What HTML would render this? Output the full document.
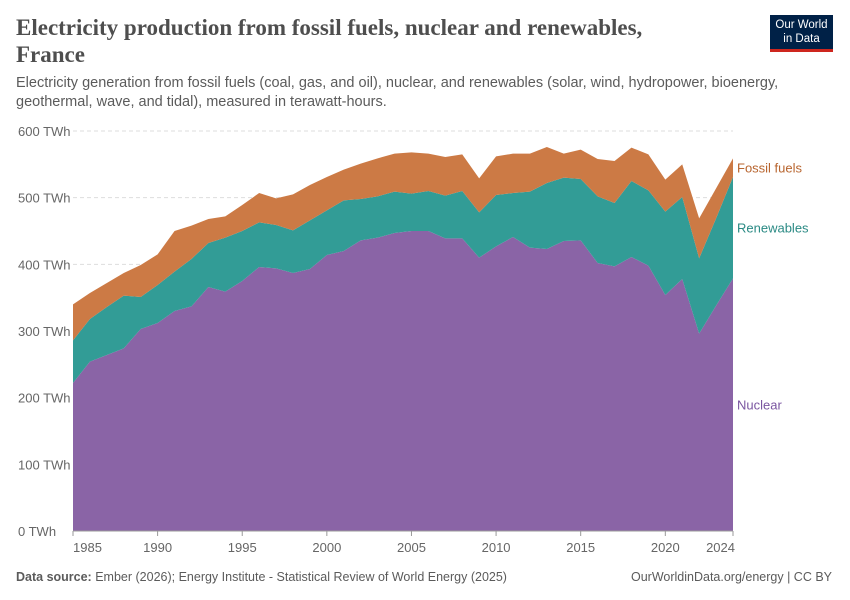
<!DOCTYPE html>
<html><head><meta charset="utf-8">
<style>
body{margin:0;background:#fff;font-family:"Liberation Sans",sans-serif;}
#wrap{position:relative;width:850px;height:600px;overflow:hidden;}
.title{position:absolute;left:16px;top:14px;font-family:"Liberation Serif",serif;font-size:23px;font-weight:bold;color:#4e4e4e;line-height:27px;width:700px;}
.sub{position:absolute;left:16px;top:74px;font-size:14.5px;color:#5b5b5b;line-height:19px;width:790px;}
.logo{position:absolute;left:770px;top:15px;width:63px;height:37px;background:#002147;color:#fff;font-size:11.5px;text-align:center;line-height:14px;padding-top:3px;box-sizing:border-box;border-bottom:3px solid #ce261e;}
.foot{position:absolute;top:570px;font-size:12.5px;color:#5b5b5b;}
</style></head><body>
<div id="wrap">
<div class="title">Electricity production from fossil fuels, nuclear and renewables,<br>France</div>
<div class="sub">Electricity generation from fossil fuels (coal, gas, and oil), nuclear, and renewables (solar, wind, hydropower, bioenergy, geothermal, wave, and tidal), measured in terawatt-hours.</div>
<div class="logo">Our World<br>in Data</div>
<svg id="chart" width="850" height="600" style="position:absolute;left:0;top:0"></svg>
<div class="foot" style="left:16px"><b>Data source:</b> Ember (2026); Energy Institute - Statistical Review of World Energy (2025)</div>
<div class="foot" style="right:18px">OurWorldinData.org/energy | CC BY</div>
</div>
<script>
const years=[1985,1986,1987,1988,1989,1990,1991,1992,1993,1994,1995,1996,1997,1998,1999,2000,2001,2002,2003,2004,2005,2006,2007,2008,2009,2010,2011,2012,2013,2014,2015,2016,2017,2018,2019,2020,2021,2022,2023,2024];
const nuclear=[222,254,264,274,303,312,330,337,366,359,375,396,394,387,393,414,420,436,440,447,450,450,439,439,410,427,441,425,423,435,436,402,397,411,398,354,378,296,338,379];
const renewables=[64,64,72,79,48,57,59,71,66,81,75,67,65,64,73,67,76,62,62,62,56,60,64,71,68,77,66,84,99,95,92,100,95,114,113,125,123,113,131,152];
const fossil=[54,39,36,34,48,46,61,50,36,32,39,44,40,54,53,50,46,53,57,57,62,56,58,55,51,58,59,57,54,36,44,56,63,50,54,48,49,60,45,28];
const yTicks=[0,100,200,300,400,500,600];
const xTicks=[1985,1990,1995,2000,2005,2010,2015,2020,2024];
const svg=document.getElementById('chart');const NS='http://www.w3.org/2000/svg';
const X0=73,X1=733,Y0=531,Y1=131;
const xs=y=>X0+(y-years[0])/(years[years.length-1]-years[0])*(X1-X0);
const ys=v=>Y0-v/600*(Y0-Y1);
function el(t,a){const e=document.createElementNS(NS,t);for(const k in a)e.setAttribute(k,a[k]);svg.appendChild(e);return e;}
yTicks.forEach(v=>{
 if(v>0){const g=el('line',{x1:X0,x2:X1,y1:ys(v),y2:ys(v),stroke:'#ddd','stroke-dasharray':'4,3'});
 
 }
 const t=el('text',{x:18,y:ys(v)+5,'font-size':13,fill:'#666','font-family':'Liberation Sans,sans-serif'});t.textContent=v+' TWh';
 
 
});
const series=[{n:'nuclear',d:nuclear,c:'#8a64a6',label:'Nuclear'},{n:'renewables',d:renewables,c:'#329c96',label:'Renewables'},{n:'fossil-fuels',d:fossil,c:'#cc7a45',label:'Fossil fuels'}];
let base=years.map(()=>0);
series.forEach(s=>{
 const top=base.map((b,i)=>b+s.d[i]);
 let p='M'+years.map((y,i)=>xs(y)+','+ys(top[i])).join('L');
 for(let i=years.length-1;i>=0;i--)p+='L'+xs(years[i])+','+ys(base[i]);
 const a=el('path',{d:p+'Z',fill:s.c});
 
 
 s.top=top;base=top;
});
const labY=[ys((series[0].top[39])/2),ys((series[0].top[39]+series[1].top[39])/2),ys((series[1].top[39]+series[2].top[39])/2)];
series.forEach((s,i)=>{
 const t=el('text',{x:737,y:labY[i]+5,'font-size':13,fill:i==0?'#7a55a0':i==1?'#2a8a84':'#b8652f','font-family':'Liberation Sans,sans-serif'});t.textContent=s.label;
 
 
});
const ax=el('line',{x1:X0,x2:X1,y1:Y0,y2:Y0,stroke:'#999'});


xTicks.forEach(y=>{
 const tk=el('line',{x1:xs(y),x2:xs(y),y1:Y0,y2:Y0+5,stroke:'#999'});
 
 
 const anchor=y==1985?'start':(y==2024?'end':'middle');
 const t=el('text',{x:y==1985?X0:(y==2024?X1+2:xs(y)),y:Y0+21,'font-size':13,fill:'#666','text-anchor':anchor,'font-family':'Liberation Sans,sans-serif'});t.textContent=y;
 
 
});
</script>
</body></html>
